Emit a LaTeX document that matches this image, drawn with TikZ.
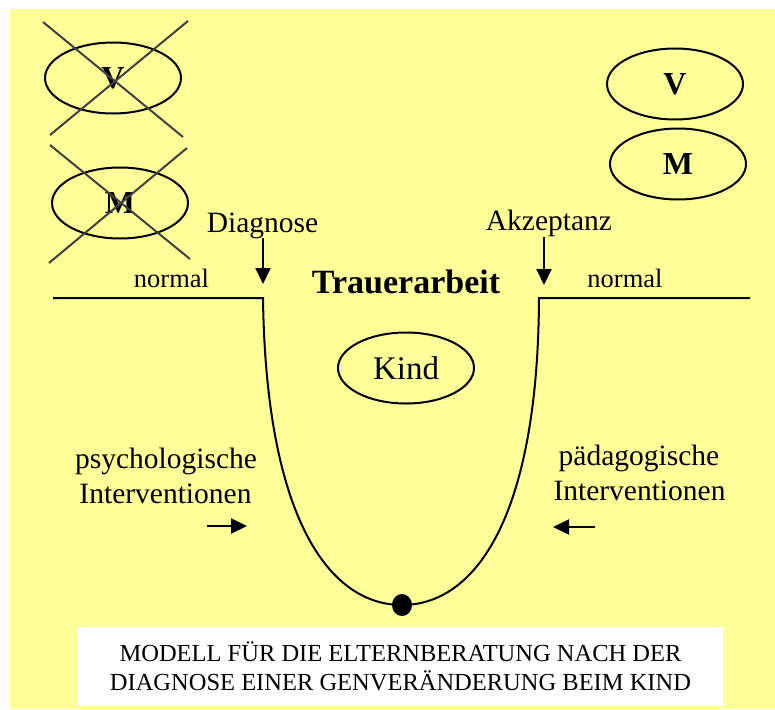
\documentclass[tikz,border=0pt]{standalone}
\usepackage{fontspec}
\setmainfont{Liberation Serif}
\usetikzlibrary{shapes.geometric,arrows.meta}
\definecolor{bgyellow}{HTML}{FFFF99}
\definecolor{crossgray}{HTML}{404040}
\tikzset{
  oval/.style={ellipse, draw, line width=2pt, minimum width=136pt, minimum height=71pt, inner sep=0pt},
  bigb/.style={font=\fontsize{32}{34}\selectfont\bfseries},
  lbl/.style={font=\fontsize{29.5}{32}\selectfont, anchor=base, inner sep=0pt},
  small/.style={font=\fontsize{26.5}{28}\selectfont, anchor=base, inner sep=0pt},
  cross/.style={draw=crossgray, line width=2pt},
  thick line/.style={line width=2pt},
  arr/.style={line width=2pt, -{Triangle[length=16pt,width=15pt]}},
  dot/.style={ellipse, fill=black, minimum width=20pt, minimum height=22pt, inner sep=0pt},
}
\begin{document}
\begin{tikzpicture}[x=1pt,y=-1pt]
\useasboundingbox (0,0) rectangle (775,709);
\fill[bgyellow] (10,9) rectangle (775,709);

% crossed-out parents
\node[oval, bigb] (V1) at (113,78) {V};
\node[oval, bigb] (M1) at (120,203) {M};
\draw[cross] (43,22) -- (183,137);
\draw[cross] (188,21) -- (50,135);
\draw[cross] (50,145) -- (190,259);
\draw[cross] (187,148) -- (49,263);

% parents after acceptance
\node[oval, bigb] (V2) at (675,84) {V};
\node[oval, bigb] (M2) at (678,164) {M};

% labels
\node[lbl] (diag) at (262.5,232) {Diagnose};
\node[lbl] (akz) at (549,230) {Akzeptanz};
\node[small] (normL) at (171.5,287) {normal};
\node[small] (normR) at (625,287) {normal};
\node[lbl, font=\fontsize{34}{36}\selectfont\bfseries] (trauer) at (406,293) {Trauerarbeit};
\node[oval, font=\fontsize{33}{35}\selectfont] (kind) at (406,368) {Kind};
\node[lbl] (psy) at (166,468) {psychologische};
\node[lbl] (intL) at (165.5,503) {Interventionen};
\node[lbl] (paed) at (639,465) {pädagogische};
\node[lbl] (intR) at (639.5,500) {Interventionen};

% coordinates
\coordinate (Lend) at (53,298);
\coordinate (Ltop) at (263,298);
\coordinate (Rtop) at (539,298);
\coordinate (Rend) at (750,298);
\coordinate (dA) at (263,238);
\coordinate (dB) at (263,284);
\coordinate (aA) at (544,237);
\coordinate (aB) at (544,285);
\coordinate (pA) at (207,526);
\coordinate (pB) at (247,526);
\coordinate (qA) at (595,527);
\coordinate (qB) at (553,527);
\coordinate (bot) at (402,605);

% the grief curve
\draw[thick line] (Lend) -- (Ltop) .. controls (266,520) and (330,605) .. (bot)
  .. controls (474,605) and (538,520) .. (Rtop) -- (Rend);
\node[dot] (ball) at (bot) {};

% arrows
\draw[arr] (dA) -- (dB);
\draw[arr] (aA) -- (aB);
\draw[arr] (pA) -- (pB);
\draw[arr] (qA) -- (qB);

% caption
\node[fill=white, minimum width=645pt, minimum height=79pt, inner sep=0pt, align=center,
  font=\fontsize{24.5}{29}\selectfont] (cap) at (400.5,666.5)
  {MODELL FÜR DIE ELTERNBERATUNG NACH DER\\DIAGNOSE EINER GENVERÄNDERUNG BEIM KIND};
\end{tikzpicture}
\end{document}
